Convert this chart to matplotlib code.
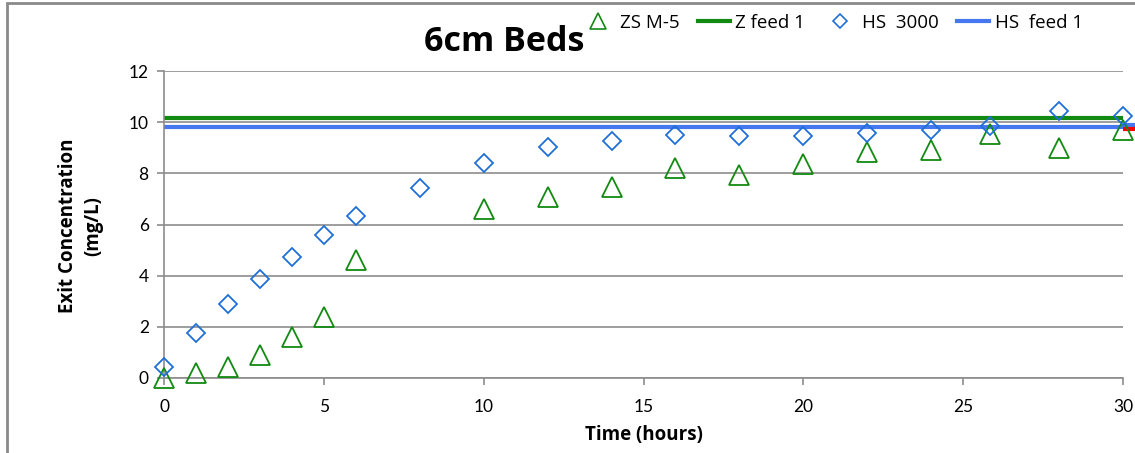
import matplotlib
matplotlib.use("Agg")
import matplotlib.pyplot as plt
from matplotlib.lines import Line2D
from matplotlib.patches import Rectangle

plt.rcParams["font.family"] = ["Lato", "DejaVu Sans"]

# exit concentration vs time for the two 6 cm beds
hs_time = [0, 1, 2, 3, 4, 5, 6, 8, 10, 12, 14, 16, 18, 20, 22, 24, 25.85, 28, 30]
hs_conc = [0.43, 1.75, 2.9, 3.88, 4.74, 5.6, 6.35, 7.44, 8.4, 9.04, 9.26, 9.5, 9.46, 9.46, 9.57, 9.7, 9.85, 10.44, 10.24]

zs_time = [0, 1, 2, 3, 4, 5, 6, 10, 12, 14, 16, 18, 20, 22, 24, 25.85, 28, 30]
zs_conc = [0.0, 0.2, 0.42, 0.9, 1.6, 2.4, 4.6, 6.6, 7.08, 7.46, 8.2, 7.95, 8.38, 8.82, 8.9, 9.55, 9.0, 9.7]

z_feed = 10.16
hs_feed = 9.81
feed_span = [0, 30]

GREEN = "#128a12"
BLUE = "#1f6fd6"
BLUE_LINE = "#4477f0"
GRID = "#8c8c8c"
LABEL_FONT = ["Open Sans", "DejaVu Sans"]

fig = plt.figure(figsize=(11.35, 4.53), dpi=100)
ax = fig.add_axes([164 / 1135, 1 - 378 / 453, (1123 - 164) / 1135, (378 - 71) / 453])

ax.plot(feed_span, [z_feed, z_feed], color=GREEN, lw=3, zorder=2)
ax.plot(feed_span, [hs_feed, hs_feed], color=BLUE_LINE, lw=3, zorder=2)
# stub at the right edge where the feed series run past the last tick
ax.plot([30, 30.4], [9.9, 9.9], color=BLUE_LINE, lw=3, clip_on=False, solid_capstyle="butt", zorder=1)
ax.plot([30, 30.4], [9.73, 9.73], color="red", lw=3, clip_on=False, solid_capstyle="butt", zorder=1)

ax.plot(zs_time, zs_conc, ls="none", marker="^", ms=14, mfc="none", mec=GREEN, mew=1.3,
        clip_on=False, zorder=3)
ax.plot(hs_time, hs_conc, ls="none", marker="D", ms=9.5, mfc="none", mec=BLUE, mew=1.3,
        clip_on=False, zorder=3)

ax.set_xlim(0, 30)
ax.set_ylim(0, 12)
ax.set_xticks(range(0, 31, 5))
ax.set_yticks(range(0, 13, 2))
ax.grid(axis="y", color=GRID, lw=1.2)
ax.set_axisbelow(True)
for s in ("top", "right"):
    ax.spines[s].set_visible(False)
for s in ("left", "bottom"):
    ax.spines[s].set_color(GRID)
    ax.spines[s].set_linewidth(1.2)
ax.tick_params(length=5, width=1.2, color=GRID, labelsize=12.5, pad=6)
ax.tick_params(axis="x", pad=10)

ax.set_xlabel("Time (hours)", fontsize=13.5, fontweight="bold", family=LABEL_FONT, labelpad=7)
fig.text(81 / 1135, 1 - 226 / 453, "Exit Concentration\n(mg/L)", rotation=90, ha="center",
         va="center", fontsize=13.5, fontweight="bold", family=LABEL_FONT, linespacing=1.35)
fig.text(504 / 1135, 1 - 42 / 453, "6cm Beds", ha="center", va="center", fontsize=24.5,
         fontweight="bold", family=LABEL_FONT)

handles = [
    Line2D([], [], ls="none", marker="^", ms=11, mfc="none", mec=GREEN, mew=1.2),
    Line2D([], [], color=GREEN, lw=3),
    Line2D([], [], ls="none", marker="D", ms=7, mfc="none", mec=BLUE, mew=1.2),
    Line2D([], [], color=BLUE_LINE, lw=3),
]
labels = ["ZS M-5", "Z feed 1", "HS  3000", "HS  feed 1"]
fig.legend(handles, labels, loc="center left", bbox_to_anchor=(582 / 1135, 1 - 23 / 453),
           ncol=4, frameon=False, prop={"family": LABEL_FONT, "size": 13.5},
           handlelength=1.7, handletextpad=0.3, columnspacing=1.0, borderpad=0, borderaxespad=0)

# chart frame
fig.patches.append(Rectangle((7 / 1135, -0.1), 1.2, 1 - 3 / 453 + 0.1, transform=fig.transFigure,
                             fill=False, edgecolor="#8a8a8a", lw=2))

fig.savefig("out.png", dpi=100)
